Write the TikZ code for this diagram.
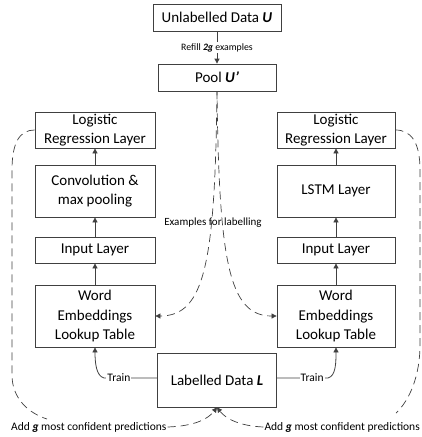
\documentclass[tikz,border=0pt]{standalone}
\usepackage{fontspec}
\setmainfont{Carlito}
\usetikzlibrary{arrows.meta}
\definecolor{ln}{RGB}{64,64,64}
\newcommand{\bi}[1]{\textbf{\textit{#1}}}
\tikzset{
  box/.style={draw=ln, line width=0.8pt, inner sep=0pt, align=center,
    font=\fontsize{15}{19.5}\selectfont, text=black},
  lbl/.style={font=\fontsize{11.5}{13}\selectfont, inner sep=1pt, text=black},
  arr/.style={draw=ln, line width=0.8pt, -{Triangle[length=5pt,width=5pt]}},
  dsh/.style={draw=ln, line width=0.7pt, dash pattern=on 8pt off 5pt},
}
\begin{document}
\begin{tikzpicture}[x=1pt,y=-1pt]
\useasboundingbox (0,0) rectangle (422,437);
% top boxes
\node[box, minimum width=128pt, minimum height=27pt] (ud) at (217,17.5) {Unlabelled Data \bi{U}};
\node[box, minimum width=118pt, minimum height=27pt] (pool) at (217,77.5) {Pool \bi{U’}};
% left column
\node[box, minimum width=120pt, minimum height=36pt] (lrl) at (95,130) {Logistic\\Regression Layer};
\node[box, minimum width=120pt, minimum height=52pt] (conv) at (95,191) {Convolution \&\\max pooling};
\node[box, minimum width=120pt, minimum height=26pt] (inl) at (95,250) {Input Layer};
\node[box, minimum width=120pt, minimum height=62pt] (lwe) at (95,316) {Word\\Embeddings\\Lookup Table};
% right column
\node[box, minimum width=118pt, minimum height=36pt] (lrr) at (336,130) {Logistic\\Regression Layer};
\node[box, minimum width=118pt, minimum height=52pt] (lstm) at (336,191) {LSTM Layer};
\node[box, minimum width=118pt, minimum height=26pt] (inr) at (336,250) {Input Layer};
\node[box, minimum width=118pt, minimum height=62pt] (rwe) at (336,316) {Word\\Embeddings\\Lookup Table};
% labelled data
\node[box, minimum width=119pt, minimum height=54pt] (ld) at (217,380) {Labelled Data \bi{L}};
% vertical arrows
\draw[arr] (ud.south) -- node[lbl, fill=white, font=\fontsize{9.8}{11}\selectfont] {Refill \bi{2g} examples} (pool.north);
\draw[arr] (lwe.north) -- (inl.south);
\draw[arr] (inl.north) -- (conv.south);
\draw[arr] (conv.north) -- (lrl.south);
\draw[arr] (rwe.north) -- (inr.south);
\draw[arr] (inr.north) -- (lstm.south);
\draw[arr] (lstm.north) -- (lrr.south);
% train arrows
\coordinate (tl) at (104,378);
\coordinate (tr) at (328,378);
\draw[arr] (ld.west |- tl) -- node[lbl, fill=white, pos=0.72] {Train} (tl) .. controls (96,376) and (95,362) .. (lwe.south);
\draw[arr] (ld.east |- tr) -- node[lbl, fill=white, pos=0.69] {Train} (tr) .. controls (336,376) and (336,362) .. (rwe.south);
% examples for labelling
\draw[arr, dsh] (pool.south) .. controls (215,262) and (205,316) .. (lwe.east);
\draw[arr, dsh, dash phase=4pt] (pool.south) .. controls (219,262) and (229,316) .. (rwe.west);
\node[lbl, font=\fontsize{11}{12}\selectfont] (ex) at (213,223) {Examples for labelling};
% confident predictions loops
\node[lbl, anchor=west] (addl) at (10,427) {Add \bi{g} most confident predictions};
\node[lbl, anchor=east] (addr) at (421,427) {Add \bi{g} most confident predictions};
\coordinate (le) at (47,419);
\coordinate (re) at (396,413);
\draw[dsh] (lrl.west) .. controls (20,130) and (12,142) .. (12,170) -- (12,375) .. controls (12,398) and (28,413) .. (le);
\draw[dsh] (lrr.east) .. controls (411,130) and (420,142) .. (420,170) -- (420,345) .. controls (420,375) and (410,400) .. (re);
\draw[arr, dsh] (addl.east) .. controls (195,426) and (208,419) .. (ld.south);
\draw[arr, dsh] (addr.west) .. controls (240,426) and (226,419) .. (ld.south);
\end{tikzpicture}
\end{document}
